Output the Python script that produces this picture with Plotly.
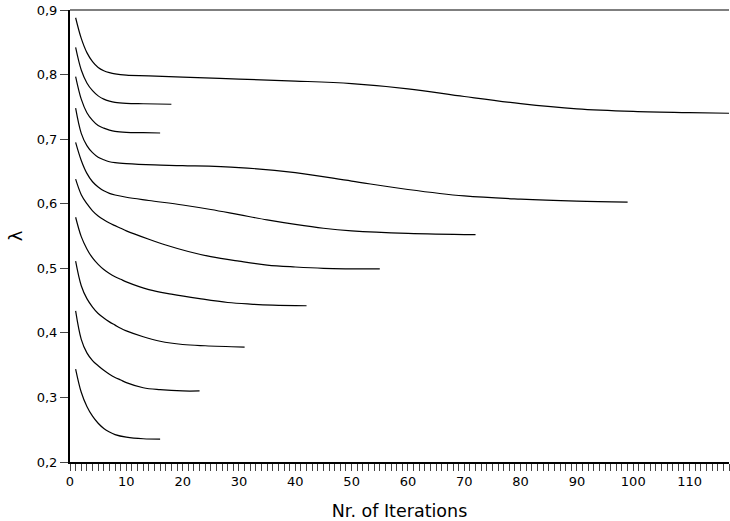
import plotly.graph_objects as go

# Iteration positions (x) and lambda values (y) for each curve
c1_x = [1, 2, 3, 4, 5, 6, 7, 8, 10, 14, 20, 30, 40, 50, 60, 70, 80, 90, 100, 110, 118]
c1_y = [0.888, 0.856, 0.834, 0.820, 0.811, 0.806, 0.803, 0.801, 0.799, 0.798, 0.796, 0.793, 0.790, 0.786, 0.778, 0.766, 0.755, 0.747, 0.743, 0.741, 0.740]

c2_x = [1, 2, 3, 4, 5, 6, 7, 8, 10, 13, 18]
c2_y = [0.842, 0.807, 0.787, 0.775, 0.767, 0.762, 0.759, 0.757, 0.7555, 0.7548, 0.754]

c3_x = [1, 2, 3, 4, 5, 6, 7, 8, 10, 13, 16]
c3_y = [0.797, 0.762, 0.741, 0.729, 0.721, 0.717, 0.714, 0.712, 0.7105, 0.710, 0.7095]

c4_x = [1, 2, 3, 4, 5, 6, 7, 8, 10, 15, 20, 30, 40, 50, 60, 70, 80, 90, 99]
c4_y = [0.748, 0.709, 0.690, 0.679, 0.672, 0.668, 0.665, 0.6635, 0.662, 0.660, 0.659, 0.656, 0.648, 0.635, 0.622, 0.612, 0.607, 0.604, 0.6025]

c5_x = [1, 2, 3, 4, 5, 6, 7, 8, 10, 14, 20, 25, 30, 35, 40, 45, 50, 60, 72]
c5_y = [0.695, 0.667, 0.647, 0.634, 0.626, 0.620, 0.616, 0.6135, 0.610, 0.605, 0.598, 0.591, 0.583, 0.575, 0.568, 0.562, 0.558, 0.554, 0.552]

c6_x = [1, 2, 3, 4, 5, 6, 7, 8, 9, 10, 14, 17, 21, 25, 30, 35, 40, 45, 55]
c6_y = [0.638, 0.614, 0.600, 0.589, 0.581, 0.575, 0.570, 0.566, 0.562, 0.558, 0.545, 0.536, 0.526, 0.518, 0.511, 0.505, 0.502, 0.500, 0.499]

c7_x = [1, 2, 3, 4, 5, 6, 7, 8, 9, 10, 14, 18, 23, 28, 32, 36, 42]
c7_y = [0.579, 0.549, 0.530, 0.516, 0.506, 0.498, 0.492, 0.487, 0.483, 0.479, 0.467, 0.460, 0.453, 0.447, 0.4445, 0.443, 0.442]

c8_x = [1, 2, 3, 4, 5, 6, 7, 8, 9, 10, 13, 16, 20, 24, 31]
c8_y = [0.511, 0.473, 0.453, 0.440, 0.430, 0.423, 0.417, 0.412, 0.407, 0.403, 0.394, 0.387, 0.382, 0.380, 0.378]

c9_x = [1, 2, 3, 4, 5, 6, 7, 8, 9, 10, 13, 16, 20, 23]
c9_y = [0.434, 0.390, 0.369, 0.357, 0.349, 0.342, 0.336, 0.331, 0.327, 0.323, 0.315, 0.312, 0.310, 0.310]

c10_x = [1, 2, 3, 4, 5, 6, 7, 8, 10, 13, 16]
c10_y = [0.344, 0.308, 0.286, 0.271, 0.260, 0.252, 0.2465, 0.2425, 0.2385, 0.236, 0.2355]

curves = [(c1_x, c1_y), (c2_x, c2_y), (c3_x, c3_y), (c4_x, c4_y), (c5_x, c5_y),
          (c6_x, c6_y), (c7_x, c7_y), (c8_x, c8_y), (c9_x, c9_y), (c10_x, c10_y)]

x_tick_vals = [0, 10, 20, 30, 40, 50, 60, 70, 80, 90, 100, 110]
y_tick_vals = [0.2, 0.3, 0.4, 0.5, 0.6, 0.7, 0.8, 0.9]

fig = go.Figure()
for xs, ys in curves:
    fig.add_trace(go.Scatter(x=xs, y=ys, mode="lines",
                             line=dict(color="black", width=1.2, shape="spline", smoothing=1.0),
                             showlegend=False, hoverinfo="skip"))

font_family = "DejaVu Sans"
fig.update_layout(
    width=730, height=521,
    margin=dict(l=70, r=1, t=10, b=59),
    paper_bgcolor="white", plot_bgcolor="white",
    separators=",.",
    font=dict(family=font_family, size=13, color="black"),
    xaxis=dict(
        range=[0, 117], tickvals=x_tick_vals, ticks="outside", ticklen=7, tickwidth=1,
        tickcolor="#444", showline=True, linecolor="black", linewidth=1.5,
        showgrid=False, zeroline=False, automargin=False,
        minor=dict(dtick=1, tick0=0, ticks="outside", ticklen=7, tickwidth=1, tickcolor="#444", showgrid=False),
        title=dict(text="Nr. of Iterations", font=dict(size=17.5), standoff=16),
        tickfont=dict(size=13),
    ),
    yaxis=dict(
        range=[0.2, 0.9], tickvals=y_tick_vals, tickformat=".1f", ticks="outside", ticklen=8,
        tickwidth=1, tickcolor="#444", showline=True, linecolor="black", linewidth=2,
        showgrid=False, zeroline=False, automargin=False,
        title=dict(text="λ", font=dict(size=18), standoff=9),
        tickfont=dict(size=13),
    ),
    shapes=[dict(type="line", xref="paper", yref="paper", x0=0, x1=1, y0=1, y1=1,
                 line=dict(color="#555", width=1.5))],
)

fig.write_html("out.html", config={"displayModeBar": False},
               post_script="document.body.style.margin='0px';")
